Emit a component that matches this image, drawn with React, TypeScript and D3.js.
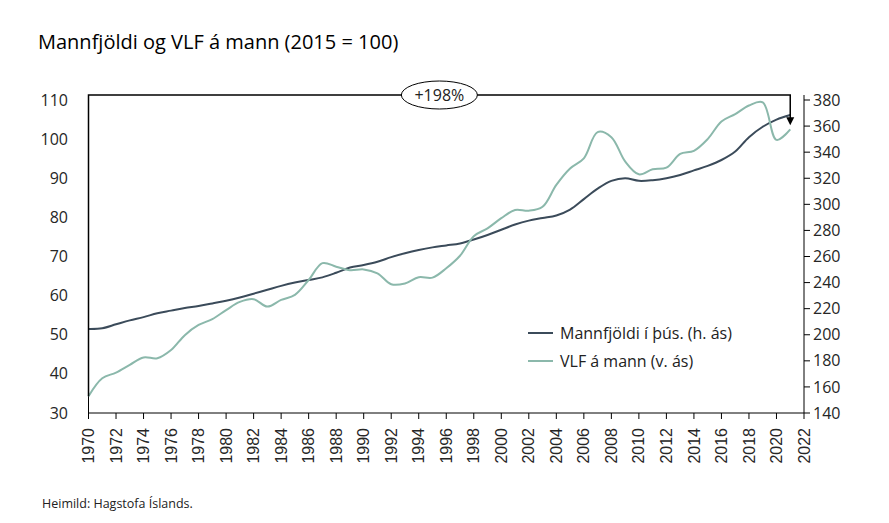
import React from "react";
import * as d3 from "d3";

const years: number[] = [
  1970, 1971, 1972, 1973, 1974, 1975, 1976, 1977, 1978, 1979,
  1980, 1981, 1982, 1983, 1984, 1985, 1986, 1987, 1988, 1989,
  1990, 1991, 1992, 1993, 1994, 1995, 1996, 1997, 1998, 1999,
  2000, 2001, 2002, 2003, 2004, 2005, 2006, 2007, 2008, 2009,
  2010, 2011, 2012, 2013, 2014, 2015, 2016, 2017, 2018, 2019,
  2020, 2021,
];

// Mannfjöldi í þús. (right axis)
const population: number[] = [
  204.5, 205, 208, 211, 213.5, 216.5, 218.5, 220.5, 222, 224,
  226, 228.5, 231.5, 234.5, 237.5, 240, 242, 244, 247.5, 251.5,
  253.5, 256, 259.5, 262.5, 265, 267, 268.5, 270, 273, 276.5,
  280.5, 284.5, 287.5, 289.5, 291.5, 296, 304, 312, 318, 320,
  318, 318.5, 320, 322.5, 326, 329.5, 334, 340.5, 351.5, 359.5,
  365, 368.5,
];

// VLF á mann, 2015 = 100 (left axis)
const gdpPerCapita: number[] = [
  34.3, 38.9, 40.3, 42.3, 44.2, 44.0, 46.1, 49.9, 52.5, 54.0,
  56.3, 58.4, 59.1, 57.2, 58.9, 60.2, 64.0, 68.3, 67.4, 66.5,
  66.7, 65.7, 62.9, 63.1, 64.7, 64.6, 67.0, 70.2, 75.2, 77.2,
  79.8, 81.9, 81.7, 82.7, 88.3, 92.5, 95.1, 101.8, 100.5, 94.3,
  91.0, 92.3, 92.7, 96.2, 97.0, 100.0, 104.5, 106.4, 108.6, 109.4,
  99.8, 102.5,
];

const leftTicks: number[] = [30, 40, 50, 60, 70, 80, 90, 100, 110];
const rightTicks: number[] = [140, 160, 180, 200, 220, 240, 260, 280, 300, 320, 340, 360, 380];
const xTicks: number[] = d3.range(1970, 2023, 2);

const title = "Mannfjöldi og VLF á mann (2015 = 100)";
const legendLabels = ["Mannfjöldi í þús. (h. ás)", "VLF á mann (v. ás)"];
const annotationLabel = "+198%";
const sourceText = "Heimild: Hagstofa Íslands.";

const DARK = "#3b4b5a";
const GREEN = "#8bb8ab";
const FONT = "'Open Sans', 'Noto Sans', sans-serif";

export default function App() {
  const W = 889;
  const H = 523;
  const x = d3.scaleLinear().domain([1970, 2022]).range([88.5, 804]);
  const yL = d3.scaleLinear().domain([30, 110]).range([413, 100]);
  const yR = d3.scaleLinear().domain([140, 380]).range([413, 100]);

  const popLine = d3
    .line<number>()
    .x((_, i) => x(years[i]))
    .y((d) => yR(d))
    .curve(d3.curveCatmullRom.alpha(0.5));
  const gdpLine = d3
    .line<number>()
    .x((_, i) => x(years[i]))
    .y((d) => yL(d))
    .curve(d3.curveCatmullRom.alpha(0.5));

  const x0 = x(years[0]);
  const x1 = x(years[years.length - 1]);
  const topY = yL(110) - 5;
  const startY = yL(gdpPerCapita[0]);
  const endY = yL(gdpPerCapita[gdpPerCapita.length - 1]) - 4;
  const midX = (x0 + x1) / 2;

  const plotTop = topY;
  const bottom = yL(30);
  const right = x(2022);

  return (
    <svg
      width={W}
      height={H}
      style={{ position: "absolute", left: 0, top: 0, background: "#fff" }}
      fontFamily={FONT}
    >
      <text x={38} y={49} fontSize={20} fill="#000">
        {title}
      </text>

      {/* left axis */}
      <line x1={x0} x2={x0} y1={plotTop} y2={bottom} stroke="#000" strokeWidth={1} />
      {leftTicks.map((t) => (
        <text key={"l" + t} x={68} y={yL(t)} dy="0.35em" textAnchor="end" fontSize={16} fill="#262626">
          {t}
        </text>
      ))}

      {/* right axis */}
      <line x1={right} x2={right} y1={plotTop} y2={bottom} stroke="#000" strokeWidth={1} />
      {rightTicks.map((t) => (
        <g key={"r" + t}>
          <line x1={right} x2={right + 6} y1={yR(t)} y2={yR(t)} stroke="#000" />
          <text x={813} y={yR(t)} dy="0.35em" fontSize={16} fill="#262626">
            {t}
          </text>
        </g>
      ))}

      {/* x axis */}
      <line x1={x0} x2={right} y1={bottom} y2={bottom} stroke="#000" />
      {xTicks.map((t) => (
        <g key={"x" + t}>
          <line x1={x(t)} x2={x(t)} y1={bottom} y2={bottom + 6} stroke="#000" />
          <text
            transform={`translate(${x(t)},${bottom + 15}) rotate(-90)`}
            textAnchor="end"
            dy="0.35em"
            fontSize={16}
            fontFamily="'Liberation Sans', Arial, sans-serif"
            fill="#262626"
          >
            {t}
          </text>
        </g>
      ))}

      {/* series */}
      <path d={popLine(population) || ""} fill="none" stroke={DARK} strokeWidth={2} />
      <path d={gdpLine(gdpPerCapita) || ""} fill="none" stroke={GREEN} strokeWidth={2} />

      {/* annotation */}
      <path
        d={`M${x0},${startY} V${topY} H${x1} V${endY - 6}`}
        fill="none"
        stroke="#000"
        strokeWidth={1.5}
      />
      <path d={`M${x1 - 4},${endY - 8} L${x1 + 4},${endY - 8} L${x1},${endY} Z`} fill="#000" />
      <ellipse cx={midX} cy={topY} rx={38} ry={14} fill="#fff" stroke="#000" strokeWidth={1} />
      <text x={midX} y={topY} dy="0.35em" textAnchor="middle" fontSize={16} fill="#222">
        {annotationLabel}
      </text>

      {/* legend */}
      {legendLabels.map((l, i) => (
        <g key={l}>
          <line
            x1={528}
            x2={553}
            y1={333 + i * 28}
            y2={333 + i * 28}
            stroke={i === 0 ? DARK : GREEN}
            strokeWidth={2}
          />
          <text x={560} y={333 + i * 28} dy="0.35em" fontSize={16} fill="#222">
            {l}
          </text>
        </g>
      ))}

      <text x={42} y={508} fontSize={12.5} fill="#222">
        {sourceText}
      </text>
    </svg>
  );
}
